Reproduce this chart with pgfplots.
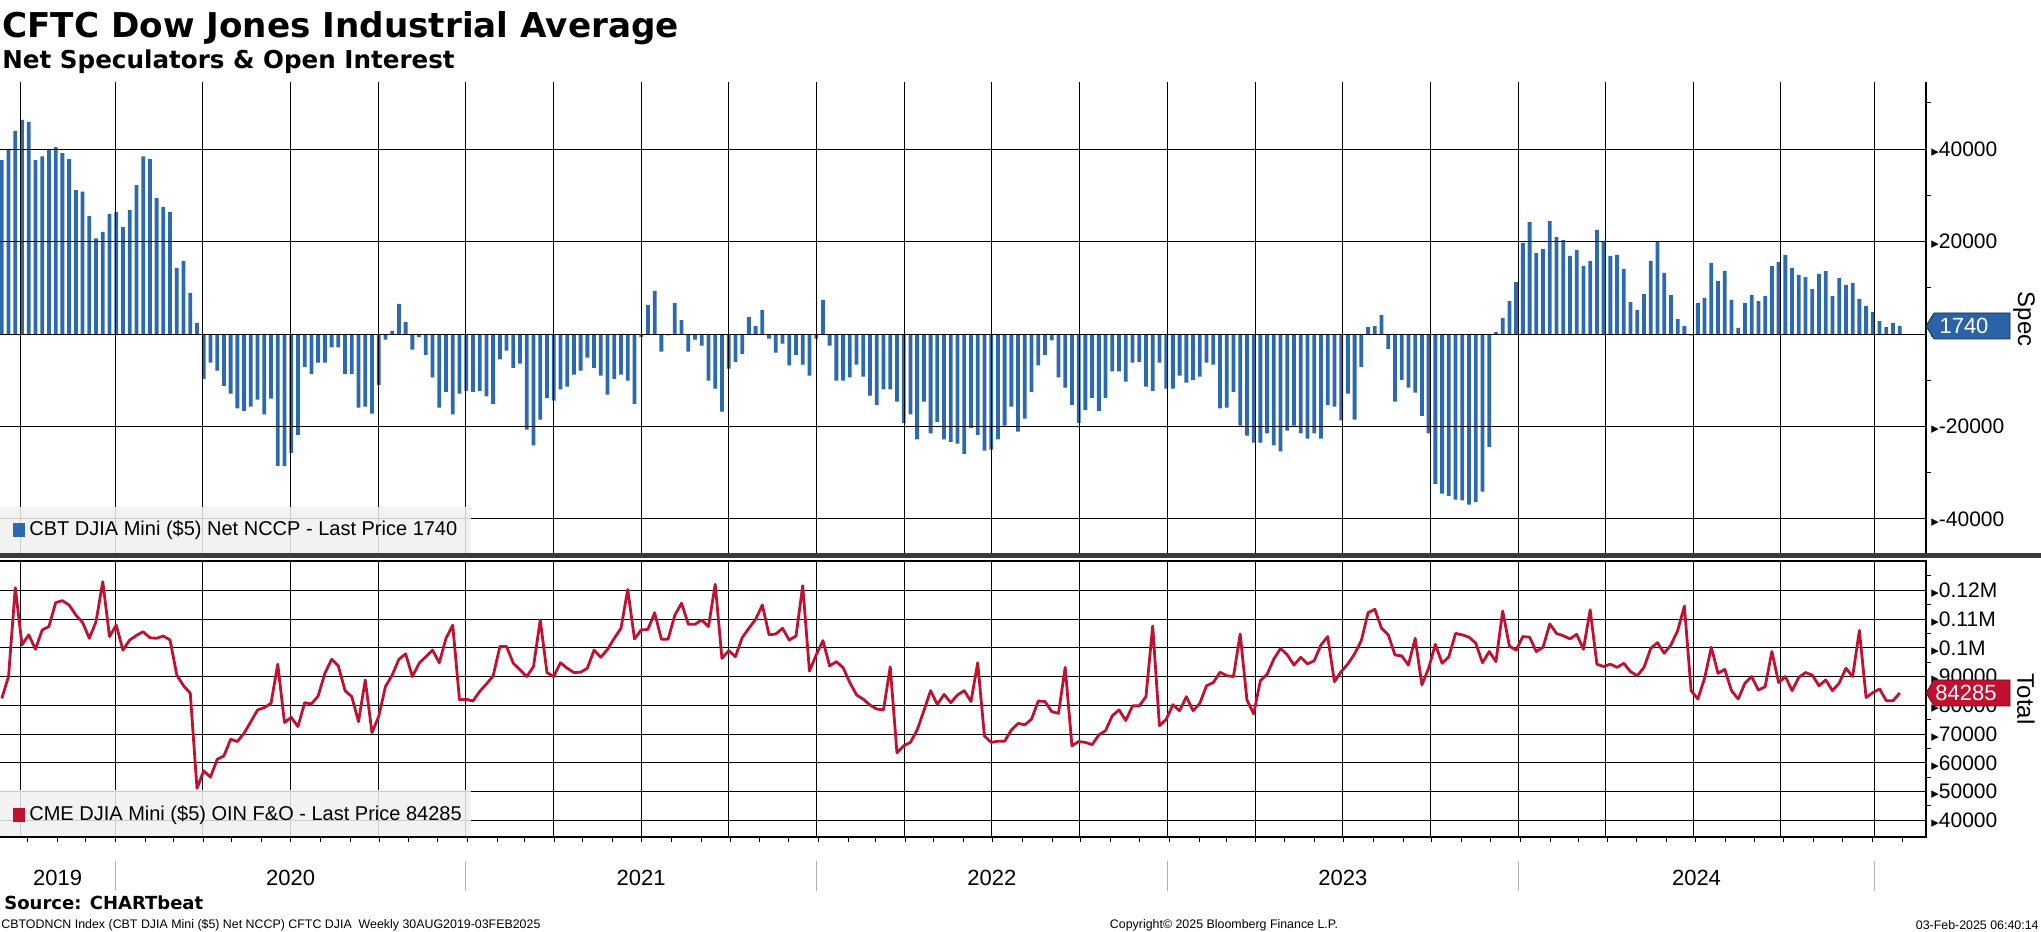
\documentclass[border=0pt]{standalone}
\usepackage{fontspec}
\setmainfont{Liberation Sans}
\newfontfamily\dejavu{DejaVu Sans}
\usepackage{pgfplots}
\pgfplotsset{compat=1.18}
\usepackage{pgfplotstable}

\definecolor{barblue}{HTML}{2C6AAE}
\definecolor{tagblue}{HTML}{2A64A6}
\definecolor{linered}{HTML}{C1112E}
\definecolor{boxgray}{HTML}{F0F0F0}
\definecolor{sepgray}{HTML}{3A3A3A}

\newcommand\tri{{\dejavu\fontsize{7.5}{7.5}\selectfont ▸}}

% net non-commercial positions, weekly
\pgfplotstableread{
v
37600
39900
43900
46300
45800
37600
38400
39900
40400
39100
37800
31100
30800
25500
20700
22100
25900
26400
23100
26800
32200
38400
37800
29400
27500
26400
14300
15800
8900
2400
-9700
-6200
-7900
-11200
-12900
-16100
-16600
-15700
-14200
-17400
-14000
-28500
-28500
-25700
-21800
-7100
-8600
-6200
-6200
-2900
-2900
-8600
-8600
-15900
-15700
-17200
-11000
-1200
650
6500
2600
-3400
-700
-4500
-9400
-15900
-12500
-17400
-12900
-12300
-12500
-12300
-13500
-15100
-5500
-3600
-7300
-6400
-20700
-24100
-18500
-13800
-14400
-12000
-11400
-8800
-7900
-5100
-7300
-9000
-13100
-9700
-8800
-10100
-15100
-700
6300
9300
-3800
-300
6700
3000
-3800
-1200
-2500
-10100
-11800
-16800
-7500
-6000
-4300
3700
1700
5200
-1000
-4000
-2100
-6800
-4500
-6600
-9000
-1000
7400
-2500
-10100
-10100
-9400
-6600
-9200
-13300
-15300
-12000
-12000
-14600
-19200
-17400
-22800
-14600
-21500
-19000
-22800
-23300
-23700
-25900
-20300
-21800
-25200
-25000
-22800
-19800
-15700
-21100
-18300
-12500
-6800
-4500
-1400
-9400
-11600
-15300
-19200
-16400
-13800
-16600
-13800
-8100
-8100
-10300
-6200
-6000
-11400
-12300
-6200
-11800
-11800
-9000
-10500
-9900
-9200
-6200
-6600
-16100
-15900
-12500
-19800
-22000
-23500
-23500
-21500
-24100
-25400
-20900
-19800
-21500
-22600
-21500
-22600
-15300
-15700
-18700
-12900
-18500
-7100
1500
1700
4100
-3200
-14600
-9900
-11600
-12700
-17700
-21500
-32400
-34500
-35000
-35800
-36000
-36900
-36300
-34100
-24400
400
3500
7100
11200
19700
24200
17500
18400
24400
21000
20300
16900
18200
14700
15800
22500
20100
16900
17100
14100
6900
5200
8600
15800
20100
13200
8400
3200
1700
-300
6700
7800
15400
11500
13600
7400
1300
6700
8400
7100
8200
14700
15600
17100
14300
12800
12300
9700
13000
13600
8200
12100
10600
11000
7600
6100
4800
2800
1500
2400
1740
}\specdata

% open interest, futures and options
\pgfplotstableread{
v
82400
90000
120900
101000
104500
99500
106200
107400
115700
116400
114900
111400
108800
103300
109100
123000
103900
107900
99200
102700
104300
105600
103500
103300
104100
102700
90500
86800
84200
51100
57200
55000
61200
62400
68200
67400
70300
74300
78400
79200
80700
94300
74000
75800
72600
80900
80500
83200
91100
96000
93700
85100
83000
74300
88800
70500
76100
86500
90500
96000
97900
90000
94600
96900
99200
94800
103300
107900
81900
82100
81500
84800
87400
90200
100400
100400
94600
92300
90000
93500
109700
91400
90000
94800
92900
91400
91500
92900
99200
96700
99500
103300
106800
120300
103100
106200
106400
112200
103000
103000
111400
115500
108200
108200
109700
107400
122100
96300
99000
96900
103500
106800
109900
114900
104500
104800
106800
102700
104100
121600
91900
97500
102500
93700
95200
93100
87900
83600
82100
80100
78700
78400
93400
63500
65900
67100
71400
78100
85100
80300
83800
80900
83600
85100
81300
94800
69300
67100
67500
67500
71400
73700
73200
75200
81500
81300
77800
77200
93200
65900
67400
67100
66300
69700
71200
76400
78400
74700
79800
79800
83000
107600
72900
75100
80200
78100
83000
78100
80700
86800
87900
91500
90300
90000
104800
81900
77000
88600
90800
96100
99800
97500
94000
96700
94400
95500
101000
103900
88200
91700
94400
97900
102500
112200
113400
106800
104500
97500
97200
94000
103300
87100
92900
101200
94600
96900
105000
104500
103700
101600
94800
98700
95200
112800
100600
99200
103900
103700
98700
100200
108300
105000
104200
103100
104700
99500
113200
94300
93500
94300
93200
94600
91700
90300
93200
99800
101800
98100
101000
106000
114500
85100
82200
89400
100200
91100
92500
85100
82200
87700
90000
85300
86500
98700
87900
90000
85100
89700
91400
90500
86800
88800
85100
87700
92900
90000
106000
82700
84400
85700
81600
81600
84285
}\oidata

\pgfplotsset{
  panel/.style={
    scale only axis, width=963pt,
    xmin=-0.27, xmax=285.9,
    axis line style={draw=none},
    clip mode=individual,
    scaled y ticks=false,
    tick align=outside,
    major tick length=2.5pt, minor tick length=2.5pt,
    ytick pos=right, yticklabel pos=right,
    major y tick style={draw=none},
    minor tick style={black, line width=0.5pt},
    yticklabel style={font=\fontsize{10.5}{12}\selectfont, anchor=west, inner sep=0pt},
    grid style={black, line width=0.5pt},
    ymajorgrids,
  }
}

\begin{document}
\begin{tikzpicture}
\useasboundingbox (0pt,0pt) rectangle (1020.5pt,-466pt);

\node[anchor=base west, inner sep=0pt, font=\dejavu\bfseries\fontsize{17.1}{20}\selectfont]
  at (1pt,-18.5pt) {CFTC Dow Jones Industrial Average};
\node[anchor=base west, inner sep=0pt, font=\dejavu\bfseries\fontsize{12.3}{14}\selectfont]
  at (1pt,-34pt) {Net Speculators \& Open Interest};

% upper panel: net speculative positions
\begin{axis}[panel,
  at={(0pt,-41pt)}, anchor=north west, height=236pt,
  ymin=-47570, ymax=54490,
  axis on top,
  xtick={2.78,16.91,29.78,42.91,55.99,68.92,81.99,95.05,108.0,121.05,134.13,147.06,160.13,173.2,186.27,199.26,212.24,225.3,238.25,251.3,264.3,278.3},
  xticklabels={}, major x tick style={draw=none}, xmajorgrids,
  ytick={-40000,-20000,0,20000,40000},
  yticklabels={\tri-40000,\tri-20000,\tri,\tri 20000,\tri 40000},
  minor ytick={-30000,-10000,10000,30000,50000},
]
\addplot[ybar, bar width=1.9pt, bar shift=0pt, fill=barblue, draw=none]
  table[x expr=\coordindex, y=v] {\specdata};
\draw[black, line width=0.6pt] (rel axis cs:1,0) -- (rel axis cs:1,1);
\coordinate (tagA) at (axis cs:285.9,1740);
\end{axis}

% lower panel: open interest
\begin{axis}[panel,
  at={(0pt,-280.5pt)}, anchor=north west, height=138pt,
  ymin=34190, ymax=130190,
  xtick={3.77,8.20,12.48,16.91,21.34,25.48,29.91,34.20,38.62,42.91,47.34,51.77,56.05,60.48,64.77,69.20,73.62,77.62,82.05,86.34,90.77,95.05,99.48,103.91,108.20,112.62,116.91,121.34,125.77,129.77,134.20,138.48,142.91,147.20,151.62,156.05,160.34,164.77,169.05,173.48,177.91,181.91,186.34,190.62,195.05,199.34,203.77,208.20,212.48,216.91,221.20,225.62,230.05,234.20,238.62,242.91,247.34,251.62,256.05,260.48,264.77,269.20,273.48,277.91,282.34},
  xticklabels={}, xtick pos=bottom,
  major x tick style={black, line width=0.5pt},
  extra x ticks={2.78,16.91,29.78,42.91,55.99,68.92,81.99,95.05,108.0,121.05,134.13,147.06,160.13,173.2,186.27,199.26,212.24,225.3,238.25,251.3,264.3,278.3},
  extra x tick labels={},
  extra x tick style={grid=major, major x tick style={draw=none}},
  ytick={40000,50000,60000,70000,80000,90000,100000,110000,120000},
  yticklabels={\tri 40000,\tri 50000,\tri 60000,\tri 70000,\tri 80000,\tri 90000,\tri 0.1M,\tri 0.11M,\tri 0.12M},
  minor ytick={45000,55000,65000,75000,85000,95000,105000,115000,125000},
]
\addplot[linered, line width=1.4pt, line join=round]
  table[x expr=\coordindex, y=v] {\oidata};
\draw[black, line width=0.6pt] (rel axis cs:0,0) -- (rel axis cs:1,0) -- (rel axis cs:1,1) -- (rel axis cs:0,1);
\pgfplotsinvokeforeach{16.91,68.92,121.05,173.2,225.3,278.3}{
  \draw[gray!60, line width=0.5pt] ([yshift=-12pt]axis cs:#1,34190) -- ([yshift=-27pt]axis cs:#1,34190);
}
\node[font=\fontsize{11}{12}\selectfont] at ([yshift=-20.5pt]axis cs:8.3,34190) {2019};
\node[font=\fontsize{11}{12}\selectfont] at ([yshift=-20.5pt]axis cs:42.9,34190) {2020};
\node[font=\fontsize{11}{12}\selectfont] at ([yshift=-20.5pt]axis cs:95.0,34190) {2021};
\node[font=\fontsize{11}{12}\selectfont] at ([yshift=-20.5pt]axis cs:147.1,34190) {2022};
\node[font=\fontsize{11}{12}\selectfont] at ([yshift=-20.5pt]axis cs:199.25,34190) {2023};
\node[font=\fontsize{11}{12}\selectfont] at ([yshift=-20.5pt]axis cs:251.8,34190) {2024};
\coordinate (tagB) at (axis cs:285.9,84285);
\end{axis}

% divider between the panels
\fill[sepgray] (0pt,-276.5pt) rectangle (1020.5pt,-279pt);

% legend boxes
\fill[boxgray, fill opacity=0.85] (0pt,-253.5pt) rectangle (235.5pt,-276.5pt);
\fill[barblue] (6.5pt,-261.5pt) rectangle (12.5pt,-268.5pt);
\node[anchor=west, inner sep=0pt, font=\fontsize{10}{11}\selectfont] at (14.5pt,-265pt)
  {CBT DJIA Mini (\$5) Net NCCP - Last Price 1740};
\fill[boxgray, fill opacity=0.85] (0pt,-395pt) rectangle (235.5pt,-418.2pt);
\fill[linered] (6.5pt,-404pt) rectangle (12.5pt,-411pt);
\node[anchor=west, inner sep=0pt, font=\fontsize{10}{11}\selectfont] at (14.5pt,-407.5pt)
  {CME DJIA Mini (\$5) OIN F\&O - Last Price 84285};

% last value tags
\fill[tagblue, draw=black!60!tagblue, line width=0.4pt] (tagA) -- ++(4pt,6.5pt) -- ++(38pt,0pt) -- ++(0pt,-13pt) -- ++(-38pt,0pt) -- cycle;
\node[text=white, font=\fontsize{11}{12}\selectfont] at ([xshift=19pt]tagA) {1740};
\fill[linered, draw=black!40!linered, line width=0.4pt] (tagB) -- ++(4pt,6.5pt) -- ++(38pt,0pt) -- ++(0pt,-13pt) -- ++(-38pt,0pt) -- cycle;
\node[text=white, font=\fontsize{11}{12}\selectfont] at ([xshift=20pt]tagB) {84285};

\node[rotate=-90, font=\fontsize{12}{13}\selectfont] at (1012pt,-159.5pt) {Spec};
\node[rotate=-90, font=\fontsize{12}{13}\selectfont] at (1013pt,-349.5pt) {Total};

% footer
\node[anchor=west, inner sep=0pt, font=\dejavu\bfseries\fontsize{9}{10}\selectfont] at (2pt,-451.5pt) {Source: CHARTbeat};
\node[anchor=west, inner sep=0pt, font=\fontsize{6.2}{7}\selectfont] at (0.5pt,-462.5pt)
  {CBTODNCN Index (CBT DJIA Mini (\$5) Net NCCP) CFTC DJIA\ \ Weekly 30AUG2019-03FEB2025};
\node[inner sep=0pt, font=\fontsize{6.2}{7}\selectfont] at (612pt,-462.5pt) {Copyright© 2025 Bloomberg Finance L.P.};
\node[anchor=east, inner sep=0pt, font=\fontsize{6.2}{7}\selectfont] at (1019.5pt,-462.5pt) {03-Feb-2025 06:40:14};
\end{tikzpicture}
\end{document}
